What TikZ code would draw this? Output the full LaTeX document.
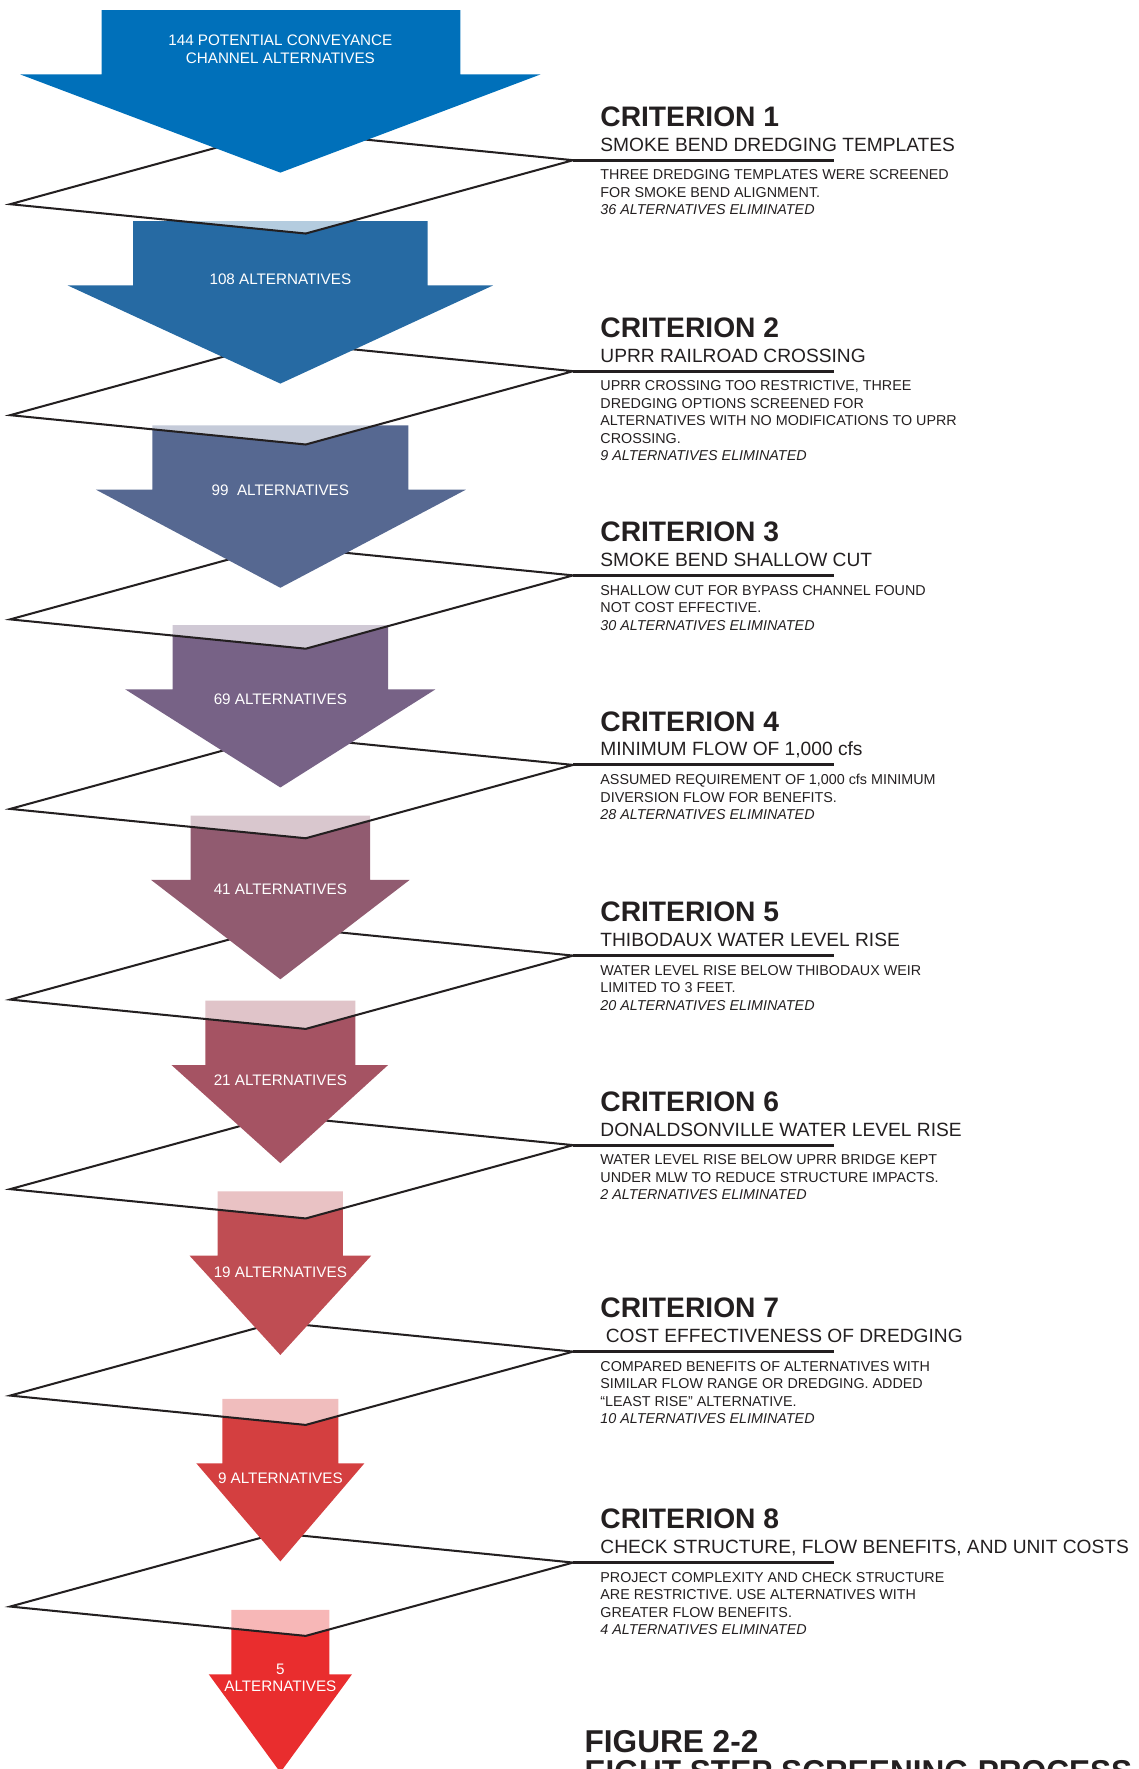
\documentclass[tikz,border=0pt]{standalone}
\usepackage{fontspec}
\setmainfont{Liberation Sans}
\definecolor{ink}{HTML}{231F20}
\definecolor{arrowone}{HTML}{0070BA}
\definecolor{arrowtwo}{HTML}{266AA3}
\definecolor{arrowthree}{HTML}{566891}
\definecolor{arrowfour}{HTML}{776286}
\definecolor{arrowfive}{HTML}{915B70}
\definecolor{arrowsix}{HTML}{A55363}
\definecolor{arrowseven}{HTML}{BF4D53}
\definecolor{arroweight}{HTML}{D43F40}
\definecolor{arrownine}{HTML}{E92D2E}
\begin{document}
\begin{tikzpicture}[x=1pt,y=-1pt,
    screenplane/.style={fill=white,fill opacity=0.66,draw=ink,line width=1.8pt,line join=miter},
    critline/.style={draw=ink,line width=2.6pt},
    countlabel/.style={text=white,font=\fontsize{13.5}{15.5}\selectfont,align=center,inner sep=0pt},
    crittitle/.style={text=ink,font=\fontsize{25}{28}\selectfont\bfseries,anchor=base west,inner sep=0pt},
    critsub/.style={text=ink,font=\fontsize{17}{20}\selectfont,anchor=base west,inner sep=0pt},
    critbody/.style={text=ink,font=\fontsize{12.7}{15.5}\selectfont,align=left,anchor=base west,inner sep=0pt}]
  \useasboundingbox (0,0) rectangle (1009,1568);

  % right corners of the planes, and the ends of the lines under the subtitles
  \coordinate (rightone) at (508,142);   \coordinate (endone) at (739,142);
  \coordinate (righttwo) at (508,329);   \coordinate (endtwo) at (739,329);
  \coordinate (rightthree) at (508,510); \coordinate (endthree) at (739,510);
  \coordinate (rightfour) at (508,678);  \coordinate (endfour) at (739,678);
  \coordinate (rightfive) at (508,847);  \coordinate (endfive) at (739,847);
  \coordinate (rightsix) at (508,1015);  \coordinate (endsix) at (739,1015);
  \coordinate (rightseven) at (508,1198);\coordinate (endseven) at (739,1198);
  \coordinate (righteight) at (508,1385);\coordinate (endeight) at (739,1385);

  % arrows and planes, from the bottom up
  \fill[arrownine] (205,1427) -- (292,1427) -- (292,1484) -- (312,1484) -- (248.5,1571) -- (185,1484) -- (205,1484) -- cycle;
  \filldraw[screenplane] (9,1424) -- (271,1450) -- (righteight) -- (246,1359) -- cycle;
  \fill[arroweight] (197,1240) -- (300,1240) -- (300,1297) -- (323,1297) -- (248.5,1384) -- (174,1297) -- (197,1297) -- cycle;
  \filldraw[screenplane] (9,1237) -- (271,1263) -- (rightseven) -- (246,1172) -- cycle;
  \fill[arrowseven] (193,1056) -- (304,1056) -- (304,1113) -- (329,1113) -- (248.5,1201) -- (168,1113) -- (193,1113) -- cycle;
  \filldraw[screenplane] (9,1054) -- (271,1080) -- (rightsix) -- (246,989) -- cycle;
  \fill[arrowsix] (182,887) -- (315,887) -- (315,944) -- (344,944) -- (248.5,1031) -- (152,944) -- (182,944) -- cycle;
  \filldraw[screenplane] (9,886) -- (271,912) -- (rightfive) -- (246,821) -- cycle;
  \fill[arrowfive] (169,723) -- (328,723) -- (328,780) -- (363,780) -- (248.5,868) -- (134,780) -- (169,780) -- cycle;
  \filldraw[screenplane] (9,717) -- (271,743) -- (rightfour) -- (246,652) -- cycle;
  \fill[arrowfour] (153,554) -- (344,554) -- (344,611) -- (386,611) -- (248.5,698) -- (111,611) -- (153,611) -- cycle;
  \filldraw[screenplane] (9,549) -- (271,575) -- (rightthree) -- (246,484) -- cycle;
  \fill[arrowthree] (135,377) -- (362,377) -- (362,434) -- (413,434) -- (248.5,521) -- (85,434) -- (135,434) -- cycle;
  \filldraw[screenplane] (9,368) -- (271,394) -- (righttwo) -- (246,303) -- cycle;
  \fill[arrowtwo] (118,196) -- (379,196) -- (379,253) -- (437,253) -- (248.5,340) -- (60,253) -- (118,253) -- cycle;
  \filldraw[screenplane] (9,181) -- (271,207) -- (rightone) -- (246,116) -- cycle;
  \fill[arrowone] (90,9) -- (408,9) -- (408,66) -- (479,66) -- (248.5,153) -- (18,66) -- (90,66) -- cycle;

  % counts on the arrows
  \node[countlabel] (countone) at (248.5,43.5) {144 POTENTIAL CONVEYANCE\\CHANNEL ALTERNATIVES};
  \node[countlabel] (counttwo) at (248.5,247.5) {108 ALTERNATIVES};
  \node[countlabel] (countthree) at (248.5,434.5) {99\ \ ALTERNATIVES};
  \node[countlabel] (countfour) at (248.5,619.5) {69 ALTERNATIVES};
  \node[countlabel] (countfive) at (248.5,788.5) {41 ALTERNATIVES};
  \node[countlabel] (countsix) at (248.5,957.5) {21 ALTERNATIVES};
  \node[countlabel] (countseven) at (248.5,1127.5) {19 ALTERNATIVES};
  \node[countlabel] (counteight) at (248.5,1310.5) {9 ALTERNATIVES};
  \node[countlabel] (countnine) at (248.5,1487) {5\\ALTERNATIVES};

  % lines under the subtitles
  \draw[critline] (rightone) -- (endone);
  \draw[critline] (righttwo) -- (endtwo);
  \draw[critline] (rightthree) -- (endthree);
  \draw[critline] (rightfour) -- (endfour);
  \draw[critline] (rightfive) -- (endfive);
  \draw[critline] (rightsix) -- (endsix);
  \draw[critline] (rightseven) -- (endseven);
  \draw[critline] (righteight) -- (endeight);

  % criteria (a text block sits on the baseline of its last line)
  \node[crittitle] (titleone) at (532,112) {CRITERION 1};
  \node[critsub] (subone) at (532,134) {SMOKE BEND DREDGING TEMPLATES};
  \node[critbody] (textone) at (532,190.5) {THREE DREDGING TEMPLATES WERE SCREENED\\FOR SMOKE BEND ALIGNMENT.\\\textit{36 ALTERNATIVES ELIMINATED}};

  \node[crittitle] (titletwo) at (532,299) {CRITERION 2};
  \node[critsub] (subtwo) at (532,321) {UPRR RAILROAD CROSSING};
  \node[critbody] (texttwo) at (532,408.5) {UPRR CROSSING TOO RESTRICTIVE, THREE\\DREDGING OPTIONS SCREENED FOR\\ALTERNATIVES WITH NO MODIFICATIONS TO UPRR\\CROSSING.\\\textit{9 ALTERNATIVES ELIMINATED}};

  \node[crittitle] (titlethree) at (532,480) {CRITERION 3};
  \node[critsub] (subthree) at (532,502) {SMOKE BEND SHALLOW CUT};
  \node[critbody] (textthree) at (532,558.5) {SHALLOW CUT FOR BYPASS CHANNEL FOUND\\NOT COST EFFECTIVE.\\\textit{30 ALTERNATIVES ELIMINATED}};

  \node[crittitle] (titlefour) at (532,648) {CRITERION 4};
  \node[critsub] (subfour) at (532,670) {MINIMUM FLOW OF 1,000 cfs};
  \node[critbody] (textfour) at (532,726.5) {ASSUMED REQUIREMENT OF 1,000 cfs MINIMUM\\DIVERSION FLOW FOR BENEFITS.\\\textit{28 ALTERNATIVES ELIMINATED}};

  \node[crittitle] (titlefive) at (532,817) {CRITERION 5};
  \node[critsub] (subfive) at (532,839) {THIBODAUX WATER LEVEL RISE};
  \node[critbody] (textfive) at (532,895.5) {WATER LEVEL RISE BELOW THIBODAUX WEIR\\LIMITED TO 3 FEET.\\\textit{20 ALTERNATIVES ELIMINATED}};

  \node[crittitle] (titlesix) at (532,985) {CRITERION 6};
  \node[critsub] (subsix) at (532,1007) {DONALDSONVILLE WATER LEVEL RISE};
  \node[critbody] (textsix) at (532,1063.5) {WATER LEVEL RISE BELOW UPRR BRIDGE KEPT\\UNDER MLW TO REDUCE STRUCTURE IMPACTS.\\\textit{2 ALTERNATIVES ELIMINATED}};

  \node[crittitle] (titleseven) at (532,1168) {CRITERION 7};
  \node[critsub] (subseven) at (532,1190) {\ COST EFFECTIVENESS OF DREDGING};
  \node[critbody] (textseven) at (532,1262) {COMPARED BENEFITS OF ALTERNATIVES WITH\\SIMILAR FLOW RANGE OR DREDGING. ADDED\\“LEAST RISE” ALTERNATIVE.\\\textit{10 ALTERNATIVES ELIMINATED}};

  \node[crittitle] (titleeight) at (532,1355) {CRITERION 8};
  \node[critsub] (subeight) at (532,1377) {CHECK STRUCTURE, FLOW BENEFITS, AND UNIT COSTS};
  \node[critbody] (texteight) at (532,1449) {PROJECT COMPLEXITY AND CHECK STRUCTURE\\ARE RESTRICTIVE. USE ALTERNATIVES WITH\\GREATER FLOW BENEFITS.\\\textit{4 ALTERNATIVES ELIMINATED}};

  % figure title, cut by the page edge
  \node[text=ink,font=\fontsize{28}{27}\selectfont\bfseries,align=left,anchor=base west,inner sep=0pt] (figtitle) at (518,1580) {FIGURE 2-2\\EIGHT STEP SCREENING PROCESS};
\end{tikzpicture}
\end{document}
